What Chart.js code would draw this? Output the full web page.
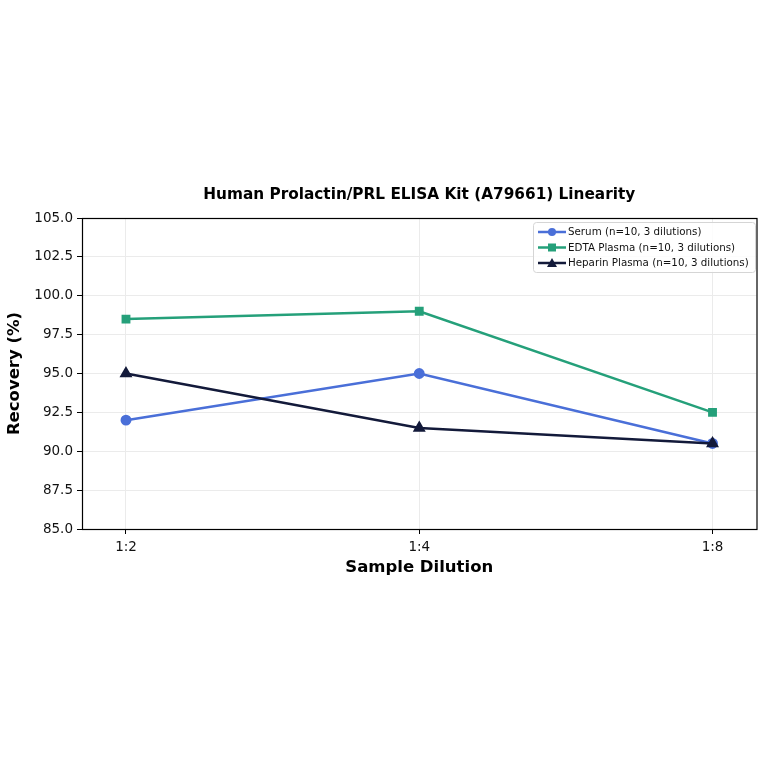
<!DOCTYPE html>
<html>
<head>
<meta charset="utf-8">
<script src="https://cdn.jsdelivr.net/npm/chart.js@4.4.1/dist/chart.umd.min.js"></script>
<style>
    html, body { margin: 0; padding: 0; background: #ffffff; }
    #wrap { width: 764px; height: 764px; }
</style>
</head>
<body>
<div id="wrap"><canvas id="linearityChart" width="764" height="764"></canvas></div>
<script>
// data
const dilutions = ["1:2", "1:4", "1:8"];
const serum = [92.0, 95.0, 90.5];
const edtaPlasma = [98.5, 99.0, 92.5];
const heparinPlasma = [95.0, 91.5, 90.5];
const yTicks = [85, 87.5, 90, 92.5, 95, 97.5, 100, 102.5, 105];

const seriesNames = [
    "Serum (n=10, 3 dilutions)",
    "EDTA Plasma (n=10, 3 dilutions)",
    "Heparin Plasma (n=10, 3 dilutions)"
];

const FONT = "'DejaVu Sans', sans-serif";
Chart.defaults.font.family = FONT;
Chart.defaults.color = "#111";

const toPoints = arr => arr.map((v, i) => ({ x: i, y: v }));

// =========================
// titles, frame, legend
// =========================
const decorations = {
    id: "decorations",
    afterDraw(chart) {
        const { ctx, chartArea: a } = chart;
        ctx.save();

        // frame
        ctx.strokeStyle = "#000";
        ctx.lineWidth = 1.2;
        ctx.strokeRect(a.left + 0.5, a.top + 0.5, a.right - a.left, a.bottom - a.top);

        // chart title
        ctx.fillStyle = "#000";
        ctx.textAlign = "center";
        ctx.textBaseline = "middle";
        ctx.font = "bold 15.3px " + FONT;
        ctx.fillText("Human Prolactin/PRL ELISA Kit (A79661) Linearity", (a.left + a.right) / 2, 195);

        // axis titles
        ctx.font = "bold 16.5px " + FONT;
        ctx.fillText("Sample Dilution", (a.left + a.right) / 2, 568);
        ctx.save();
        ctx.translate(15, (a.top + a.bottom) / 2);
        ctx.rotate(-Math.PI / 2);
        ctx.fillText("Recovery (%)", 0, 0);
        ctx.restore();

        // legend
        const lx = 533, ly = 222, lw = 222, lh = 50;
        ctx.fillStyle = "rgba(255,255,255,0.85)";
        ctx.strokeStyle = "#d5d5d5";
        ctx.lineWidth = 1;
        ctx.beginPath();
        ctx.roundRect(lx + 0.5, ly + 0.5, lw, lh, 3);
        ctx.fill();
        ctx.stroke();

        ctx.font = "10.3px " + FONT;
        ctx.textAlign = "left";
        chart.data.datasets.forEach((ds, i) => {
            const y = ly + 10 + i * 15.5;
            ctx.strokeStyle = ds.borderColor;
            ctx.lineWidth = 2.5;
            ctx.beginPath();
            ctx.moveTo(lx + 5, y);
            ctx.lineTo(lx + 33, y);
            ctx.stroke();
            ctx.fillStyle = ds.borderColor;
            const cx = lx + 19;
            ctx.beginPath();
            if (ds.pointStyle === "rect") {
                ctx.rect(cx - 4, y - 4, 8, 8);
            } else if (ds.pointStyle === "triangle") {
                ctx.moveTo(cx, y - 5);
                ctx.lineTo(cx + 5, y + 4);
                ctx.lineTo(cx - 5, y + 4);
                ctx.closePath();
            } else {
                ctx.arc(cx, y, 4, 0, Math.PI * 2);
            }
            ctx.fill();
            ctx.fillStyle = "#111";
            ctx.fillText(seriesNames[i], lx + 35, y + 0.5);
        });

        ctx.restore();
    }
};

// later series sit on top, so lower "order" for them
const makeSet = (label, values, color, style, r, order) => ({
    label: label,
    data: toPoints(values),
    borderColor: color,
    backgroundColor: color,
    pointStyle: style,
    pointRadius: r,
    pointHoverRadius: r,
    borderWidth: 2.5,
    tension: 0,
    order: order
});

new Chart(document.getElementById("linearityChart"), {
    type: "line",
    data: {
        datasets: [
            makeSet(seriesNames[0], serum, "#4a6fd8", "circle", 4.2, 3),
            makeSet(seriesNames[1], edtaPlasma, "#25a07a", "rect", 4.5, 2),
            makeSet(seriesNames[2], heparinPlasma, "#131a3a", "triangle", 5, 1)
        ]
    },
    options: {
        responsive: false,
        animation: false,
        layout: { padding: { top: 218, right: 7, bottom: 0, left: 0 } },
        plugins: {
            legend: { display: false },
            title: { display: false },
            tooltip: { enabled: false }
        },
        scales: {
            x: {
                type: "linear",
                min: -0.15,
                max: 2.15,
                afterBuildTicks: scale => {
                    scale.ticks = dilutions.map((d, i) => ({ value: i }));
                },
                afterFit: scale => { scale.height = 764 - 529; },
                ticks: {
                    callback: v => dilutions[v],
                    color: "#111",
                    font: { size: 13.5 },
                    padding: 5,
                    maxRotation: 0
                },
                grid: {
                    color: "#ebebeb",
                    tickColor: "#000",
                    tickLength: 5
                },
                border: { display: false }
            },
            y: {
                min: 85,
                max: 105,
                afterBuildTicks: scale => {
                    scale.ticks = yTicks.map(v => ({ value: v }));
                },
                afterFit: scale => { scale.width = 82; },
                ticks: {
                    callback: v => v.toFixed(1),
                    color: "#111",
                    font: { size: 13.5 },
                    padding: 4
                },
                grid: {
                    color: "#ebebeb",
                    tickColor: "#000",
                    tickLength: 5
                },
                border: { display: false }
            }
        }
    },
    plugins: [decorations]
});
</script>
</body>
</html>
